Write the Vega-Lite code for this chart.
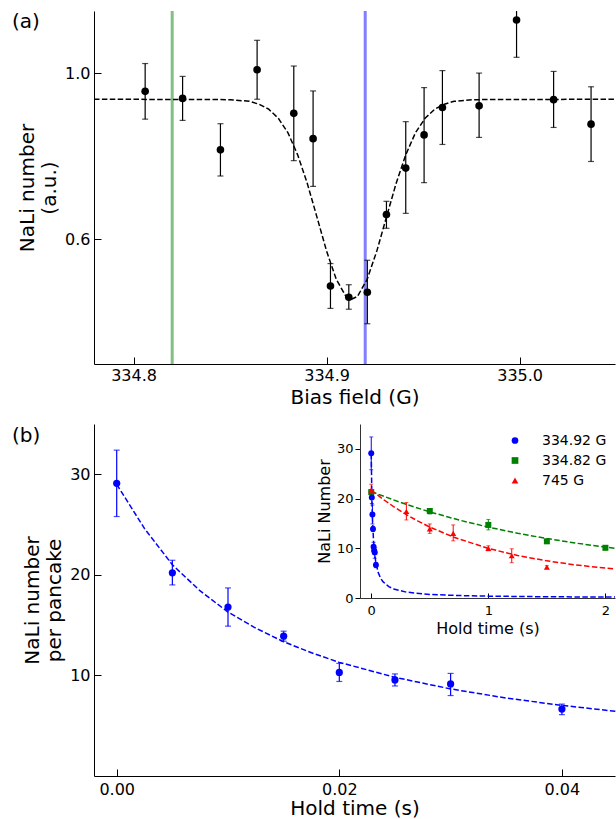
{
  "$schema": "https://vega.github.io/schema/vega-lite/v6.json",
  "padding": {"left": 12, "top": 9, "right": 0, "bottom": 0},
  "config": {
    "font": "DejaVu Sans",
    "view": {"stroke": null},
    "axis": {"grid": false, "domainColor": "black", "tickColor": "black", "labelColor": "black", "titleColor": "black", "titleFontWeight": "normal", "labelFlush": false, "labelOverlap": false, "domainWidth": 1, "tickWidth": 1},
    "legend": {"labelFontSize": 14, "labelColor": "black", "labelOffset": 20, "rowPadding": 6, "symbolSize": 45, "padding": 0, "symbolStrokeWidth": 0},
    "title": {"fontWeight": "normal", "color": "black"}
  },
  "datasets": {
    "lines": [{"b": 334.82, "s": "g"}, {"b": 334.92, "s": "b"}],
    "ptsA": [
      {"x": 334.806, "y": 0.957, "lo": 0.890, "hi": 1.024},
      {"x": 334.8254, "y": 0.940, "lo": 0.887, "hi": 0.993},
      {"x": 334.845, "y": 0.816, "lo": 0.753, "hi": 0.879},
      {"x": 334.864, "y": 1.009, "lo": 0.938, "hi": 1.080},
      {"x": 334.883, "y": 0.904, "lo": 0.790, "hi": 1.018},
      {"x": 334.893, "y": 0.843, "lo": 0.728, "hi": 0.958},
      {"x": 334.902, "y": 0.488, "lo": 0.434, "hi": 0.542},
      {"x": 334.9115, "y": 0.461, "lo": 0.432, "hi": 0.491},
      {"x": 334.9211, "y": 0.473, "lo": 0.397, "hi": 0.550},
      {"x": 334.931, "y": 0.660, "lo": 0.627, "hi": 0.692},
      {"x": 334.941, "y": 0.772, "lo": 0.663, "hi": 0.884},
      {"x": 334.9505, "y": 0.852, "lo": 0.737, "hi": 0.966},
      {"x": 334.960, "y": 0.918, "lo": 0.829, "hi": 1.007},
      {"x": 334.979, "y": 0.922, "lo": 0.846, "hi": 1.001},
      {"x": 334.9984, "y": 1.129, "lo": 1.039, "hi": 1.22},
      {"x": 335.0176, "y": 0.937, "lo": 0.870, "hi": 1.005},
      {"x": 335.037, "y": 0.878, "lo": 0.788, "hi": 0.968}
    ],
    "fitA": [
      {"x": 334.7795, "y": 0.938}, {"x": 334.85, "y": 0.937}, {"x": 334.86, "y": 0.933},
      {"x": 334.865, "y": 0.926}, {"x": 334.87, "y": 0.914}, {"x": 334.875, "y": 0.892},
      {"x": 334.88, "y": 0.857}, {"x": 334.885, "y": 0.804}, {"x": 334.89, "y": 0.735},
      {"x": 334.895, "y": 0.654}, {"x": 334.9, "y": 0.572}, {"x": 334.905, "y": 0.504},
      {"x": 334.91, "y": 0.463}, {"x": 334.913, "y": 0.456}, {"x": 334.916, "y": 0.463},
      {"x": 334.921, "y": 0.504}, {"x": 334.926, "y": 0.572}, {"x": 334.931, "y": 0.654},
      {"x": 334.936, "y": 0.735}, {"x": 334.941, "y": 0.804}, {"x": 334.946, "y": 0.857},
      {"x": 334.951, "y": 0.892}, {"x": 334.956, "y": 0.914}, {"x": 334.961, "y": 0.926},
      {"x": 334.966, "y": 0.933}, {"x": 334.976, "y": 0.937}, {"x": 335.0494, "y": 0.938}
    ],
    "mainPts": [
      {"t": 0, "n": 29.1, "lo": 25.8, "hi": 32.4},
      {"t": 0.005, "n": 20.2, "lo": 19.0, "hi": 21.45},
      {"t": 0.01, "n": 16.8, "lo": 14.9, "hi": 18.7},
      {"t": 0.015, "n": 13.9, "lo": 13.4, "hi": 14.4},
      {"t": 0.02, "n": 10.3, "lo": 9.4, "hi": 11.2},
      {"t": 0.025, "n": 9.55, "lo": 8.95, "hi": 10.15},
      {"t": 0.03, "n": 9.15, "lo": 8.0, "hi": 10.2},
      {"t": 0.04, "n": 6.65, "lo": 6.1, "hi": 7.15}
    ],
    "mainFit": [
      {"t": 0, "n": 29.0}, {"t": 0.0025, "n": 24.6}, {"t": 0.005, "n": 21.0},
      {"t": 0.0075, "n": 18.4}, {"t": 0.01, "n": 16.3}, {"t": 0.0125, "n": 14.7},
      {"t": 0.015, "n": 13.35}, {"t": 0.0175, "n": 12.25}, {"t": 0.02, "n": 11.3},
      {"t": 0.025, "n": 9.81}, {"t": 0.03, "n": 8.66}, {"t": 0.035, "n": 7.75},
      {"t": 0.04, "n": 7.02}, {"t": 0.0448, "n": 6.43}
    ],
    "insetPts": [
      {"ser": "334.82 G", "t": 0, "n": 21.3, "lo": 20.8, "hi": 21.8},
      {"ser": "334.82 G", "t": 0.5, "n": 17.5, "lo": 16.9, "hi": 18.0},
      {"ser": "334.82 G", "t": 1.0, "n": 14.7, "lo": 13.7, "hi": 15.8},
      {"ser": "334.82 G", "t": 1.5, "n": 11.4, "lo": 11.0, "hi": 11.8},
      {"ser": "334.82 G", "t": 2.0, "n": 10.1, "lo": 9.7, "hi": 10.5},
      {"ser": "745 G", "t": 0, "n": 21.7, "lo": 20.7, "hi": 22.9},
      {"ser": "745 G", "t": 0.3, "n": 17.4, "lo": 15.7, "hi": 19.2},
      {"ser": "745 G", "t": 0.5, "n": 13.9, "lo": 13.0, "hi": 14.9},
      {"ser": "745 G", "t": 0.7, "n": 13.0, "lo": 11.5, "hi": 14.7},
      {"ser": "745 G", "t": 1.0, "n": 10.0, "lo": 9.5, "hi": 10.5},
      {"ser": "745 G", "t": 1.2, "n": 8.5, "lo": 7.1, "hi": 9.9},
      {"ser": "745 G", "t": 1.5, "n": 6.2, "lo": 5.9, "hi": 6.5},
      {"ser": "334.92 G", "t": 0, "n": 29.1, "lo": 25.8, "hi": 32.4},
      {"ser": "334.92 G", "t": 0.005, "n": 20.2, "lo": 19.0, "hi": 21.45},
      {"ser": "334.92 G", "t": 0.01, "n": 16.8, "lo": 14.9, "hi": 18.7},
      {"ser": "334.92 G", "t": 0.015, "n": 13.9, "lo": 13.4, "hi": 14.4},
      {"ser": "334.92 G", "t": 0.02, "n": 10.3, "lo": 9.4, "hi": 11.2},
      {"ser": "334.92 G", "t": 0.025, "n": 9.55, "lo": 8.95, "hi": 10.15},
      {"ser": "334.92 G", "t": 0.03, "n": 9.15, "lo": 8.0, "hi": 10.2},
      {"ser": "334.92 G", "t": 0.04, "n": 6.65, "lo": 6.1, "hi": 7.15}
    ],
    "insetFit": [
      {"ser": "334.82 G", "t": 0, "n": 21.4}, {"ser": "334.82 G", "t": 0.25, "n": 19.22},
      {"ser": "334.82 G", "t": 0.5, "n": 17.32}, {"ser": "334.82 G", "t": 0.75, "n": 15.68},
      {"ser": "334.82 G", "t": 1.0, "n": 14.26}, {"ser": "334.82 G", "t": 1.25, "n": 13.03},
      {"ser": "334.82 G", "t": 1.5, "n": 11.96}, {"ser": "334.82 G", "t": 1.75, "n": 11.03},
      {"ser": "334.82 G", "t": 2.0, "n": 10.23}, {"ser": "334.82 G", "t": 2.082, "n": 9.99},
      {"ser": "745 G", "t": 0, "n": 21.7}, {"ser": "745 G", "t": 0.1, "n": 19.88},
      {"ser": "745 G", "t": 0.2, "n": 18.24}, {"ser": "745 G", "t": 0.3, "n": 16.77},
      {"ser": "745 G", "t": 0.4, "n": 15.46}, {"ser": "745 G", "t": 0.5, "n": 14.28},
      {"ser": "745 G", "t": 0.7, "n": 12.27}, {"ser": "745 G", "t": 1.0, "n": 9.97},
      {"ser": "745 G", "t": 1.25, "n": 8.55}, {"ser": "745 G", "t": 1.5, "n": 7.47},
      {"ser": "745 G", "t": 1.75, "n": 6.64}, {"ser": "745 G", "t": 2.0, "n": 6.01},
      {"ser": "745 G", "t": 2.082, "n": 5.85},
      {"ser": "334.92 G", "t": 0, "n": 29.0}, {"ser": "334.92 G", "t": 0.005, "n": 20.84},
      {"ser": "334.92 G", "t": 0.01, "n": 16.27}, {"ser": "334.92 G", "t": 0.02, "n": 11.3},
      {"ser": "334.92 G", "t": 0.03, "n": 8.66}, {"ser": "334.92 G", "t": 0.04, "n": 7.02},
      {"ser": "334.92 G", "t": 0.06, "n": 5.1}, {"ser": "334.92 G", "t": 0.08, "n": 3.98},
      {"ser": "334.92 G", "t": 0.1, "n": 3.28}, {"ser": "334.92 G", "t": 0.15, "n": 2.28},
      {"ser": "334.92 G", "t": 0.2, "n": 1.74}, {"ser": "334.92 G", "t": 0.3, "n": 1.18},
      {"ser": "334.92 G", "t": 0.5, "n": 0.72}, {"ser": "334.92 G", "t": 0.75, "n": 0.49},
      {"ser": "334.92 G", "t": 1.0, "n": 0.37}, {"ser": "334.92 G", "t": 1.5, "n": 0.25},
      {"ser": "334.92 G", "t": 2.082, "n": 0.18}
    ]
  },
  "vconcat": [
    {
      "title": {"text": "(a)", "anchor": "start", "frame": "group", "orient": "top", "offset": -22, "dx": -82, "baseline": "top", "fontSize": 20},
      "width": 521,
      "height": 353,
      "layer": [
        {
          "data": {"name": "lines"},
          "transform": [{"filter": "datum.s == 'g'"}],
          "mark": {"type": "rule", "strokeWidth": 3, "color": "#80c080"},
          "encoding": {
            "x": {"field": "b", "type": "quantitative", "scale": {"domain": [334.7795, 335.0494], "nice": false, "zero": false},
                  "axis": {"values": [334.8, 334.9, 335.0], "format": ".1f", "title": "Bias field (G)", "tickSize": -7, "labelPadding": 10, "titlePadding": 4, "labelFontSize": 16, "titleFontSize": 20}}
          }
        },
        {
          "data": {"name": "lines"},
          "transform": [{"filter": "datum.s == 'b'"}],
          "mark": {"type": "rule", "strokeWidth": 3, "color": "#8080ff"},
          "encoding": {
            "x": {"field": "b", "type": "quantitative", "scale": {"domain": [334.7795, 335.0494], "nice": false, "zero": false},
                  "axis": {"values": [334.8, 334.9, 335.0], "format": ".1f", "title": "Bias field (G)", "tickSize": -7, "labelPadding": 10, "titlePadding": 4, "labelFontSize": 16, "titleFontSize": 20}}
          }
        },
        {
          "data": {"name": "fitA"},
          "mark": {"type": "line", "color": "black", "strokeWidth": 1.5, "strokeDash": [5.5, 2.4]},
          "encoding": {
            "x": {"field": "x", "type": "quantitative", "scale": {"domain": [334.7795, 335.0494], "nice": false, "zero": false},
                  "axis": {"values": [334.8, 334.9, 335.0], "format": ".1f", "title": "Bias field (G)", "tickSize": -7, "labelPadding": 10, "titlePadding": 4, "labelFontSize": 16, "titleFontSize": 20}},
            "y": {"field": "y", "type": "quantitative", "scale": {"domain": [0.3, 1.1506], "nice": false, "zero": false},
                  "axis": {"values": [0.6, 1.0], "format": ".1f", "title": ["NaLi number", "(a.u.)"], "tickSize": -7, "labelPadding": 11, "titlePadding": 5, "titleLineHeight": 22, "labelFontSize": 16, "titleFontSize": 20}}
          }
        },
        {
          "data": {"name": "ptsA"},
          "mark": {"type": "rule", "color": "black", "strokeWidth": 1.2, "clip": true},
          "encoding": {
            "x": {"field": "x", "type": "quantitative", "scale": {"domain": [334.7795, 335.0494], "nice": false, "zero": false},
                  "axis": {"values": [334.8, 334.9, 335.0], "format": ".1f", "title": "Bias field (G)", "tickSize": -7, "labelPadding": 10, "titlePadding": 4, "labelFontSize": 16, "titleFontSize": 20}},
            "y": {"field": "lo", "type": "quantitative", "scale": {"domain": [0.3, 1.1506], "nice": false, "zero": false},
                  "axis": {"values": [0.6, 1.0], "format": ".1f", "title": ["NaLi number", "(a.u.)"], "tickSize": -7, "labelPadding": 11, "titlePadding": 5, "titleLineHeight": 22, "labelFontSize": 16, "titleFontSize": 20}},
            "y2": {"field": "hi"}
          }
        },
        {
          "data": {"name": "ptsA"},
          "mark": {"type": "tick", "orient": "horizontal", "color": "black", "size": 6, "thickness": 1.2, "clip": true},
          "encoding": {
            "x": {"field": "x", "type": "quantitative", "scale": {"domain": [334.7795, 335.0494], "nice": false, "zero": false},
                  "axis": {"values": [334.8, 334.9, 335.0], "format": ".1f", "title": "Bias field (G)", "tickSize": -7, "labelPadding": 10, "titlePadding": 4, "labelFontSize": 16, "titleFontSize": 20}},
            "y": {"field": "lo", "type": "quantitative", "scale": {"domain": [0.3, 1.1506], "nice": false, "zero": false},
                  "axis": {"values": [0.6, 1.0], "format": ".1f", "title": ["NaLi number", "(a.u.)"], "tickSize": -7, "labelPadding": 11, "titlePadding": 5, "titleLineHeight": 22, "labelFontSize": 16, "titleFontSize": 20}}
          }
        },
        {
          "data": {"name": "ptsA"},
          "mark": {"type": "tick", "orient": "horizontal", "color": "black", "size": 6, "thickness": 1.2, "clip": true},
          "encoding": {
            "x": {"field": "x", "type": "quantitative", "scale": {"domain": [334.7795, 335.0494], "nice": false, "zero": false},
                  "axis": {"values": [334.8, 334.9, 335.0], "format": ".1f", "title": "Bias field (G)", "tickSize": -7, "labelPadding": 10, "titlePadding": 4, "labelFontSize": 16, "titleFontSize": 20}},
            "y": {"field": "hi", "type": "quantitative", "scale": {"domain": [0.3, 1.1506], "nice": false, "zero": false},
                  "axis": {"values": [0.6, 1.0], "format": ".1f", "title": ["NaLi number", "(a.u.)"], "tickSize": -7, "labelPadding": 11, "titlePadding": 5, "titleLineHeight": 22, "labelFontSize": 16, "titleFontSize": 20}}
          }
        },
        {
          "data": {"name": "ptsA"},
          "mark": {"type": "point", "filled": true, "color": "black", "opacity": 1, "size": 58, "shape": "circle"},
          "encoding": {
            "x": {"field": "x", "type": "quantitative", "scale": {"domain": [334.7795, 335.0494], "nice": false, "zero": false},
                  "axis": {"values": [334.8, 334.9, 335.0], "format": ".1f", "title": "Bias field (G)", "tickSize": -7, "labelPadding": 10, "titlePadding": 4, "labelFontSize": 16, "titleFontSize": 20}},
            "y": {"field": "y", "type": "quantitative", "scale": {"domain": [0.3, 1.1506], "nice": false, "zero": false},
                  "axis": {"values": [0.6, 1.0], "format": ".1f", "title": ["NaLi number", "(a.u.)"], "tickSize": -7, "labelPadding": 11, "titlePadding": 5, "titleLineHeight": 22, "labelFontSize": 16, "titleFontSize": 20}}
          }
        },
        {
          "mark": {"type": "rule", "color": "black", "strokeWidth": 1},
          "encoding": {
            "y": {"datum": 1.1506, "type": "quantitative", "scale": {"domain": [0.3, 1.1506], "nice": false, "zero": false},
                  "axis": {"values": [0.6, 1.0], "format": ".1f", "title": ["NaLi number", "(a.u.)"], "tickSize": -7, "labelPadding": 11, "titlePadding": 5, "titleLineHeight": 22, "labelFontSize": 16, "titleFontSize": 20}}
          }
        }
      ]
    },
    {
      "title": {"text": "(b)", "anchor": "start", "frame": "group", "orient": "top", "offset": -22, "dx": -82, "baseline": "top", "fontSize": 20},
      "width": 521,
      "height": 352,
      "layer": [
        {
          "layer": [
            {
              "data": {"name": "mainPts"},
              "mark": {"type": "rule", "color": "#0000ff", "strokeWidth": 1.2},
              "encoding": {
                "x": {"field": "t", "type": "quantitative", "scale": {"domain": [-0.00204, 0.04477], "nice": false, "zero": false},
                      "axis": {"values": [0, 0.02, 0.04], "format": ".2f", "title": "Hold time (s)", "tickSize": -7, "labelPadding": 12, "titlePadding": 1, "labelFontSize": 16, "titleFontSize": 20}},
                "y": {"field": "lo", "type": "quantitative", "scale": {"domain": [0, 35], "nice": false, "zero": false},
                      "axis": {"values": [10, 20, 30], "title": ["NaLi number", "per pancake"], "tickSize": -7, "labelPadding": 11, "titlePadding": 5, "titleLineHeight": 22, "labelFontSize": 16, "titleFontSize": 20}},
                "y2": {"field": "hi"}
              }
            },
            {
              "data": {"name": "mainPts"},
              "mark": {"type": "tick", "orient": "horizontal", "color": "#0000ff", "size": 6, "thickness": 1.2},
              "encoding": {
                "x": {"field": "t", "type": "quantitative", "scale": {"domain": [-0.00204, 0.04477], "nice": false, "zero": false},
                      "axis": {"values": [0, 0.02, 0.04], "format": ".2f", "title": "Hold time (s)", "tickSize": -7, "labelPadding": 12, "titlePadding": 1, "labelFontSize": 16, "titleFontSize": 20}},
                "y": {"field": "lo", "type": "quantitative", "scale": {"domain": [0, 35], "nice": false, "zero": false},
                      "axis": {"values": [10, 20, 30], "title": ["NaLi number", "per pancake"], "tickSize": -7, "labelPadding": 11, "titlePadding": 5, "titleLineHeight": 22, "labelFontSize": 16, "titleFontSize": 20}}
              }
            },
            {
              "data": {"name": "mainPts"},
              "mark": {"type": "tick", "orient": "horizontal", "color": "#0000ff", "size": 6, "thickness": 1.2},
              "encoding": {
                "x": {"field": "t", "type": "quantitative", "scale": {"domain": [-0.00204, 0.04477], "nice": false, "zero": false},
                      "axis": {"values": [0, 0.02, 0.04], "format": ".2f", "title": "Hold time (s)", "tickSize": -7, "labelPadding": 12, "titlePadding": 1, "labelFontSize": 16, "titleFontSize": 20}},
                "y": {"field": "hi", "type": "quantitative", "scale": {"domain": [0, 35], "nice": false, "zero": false},
                      "axis": {"values": [10, 20, 30], "title": ["NaLi number", "per pancake"], "tickSize": -7, "labelPadding": 11, "titlePadding": 5, "titleLineHeight": 22, "labelFontSize": 16, "titleFontSize": 20}}
              }
            },
            {
              "data": {"name": "mainFit"},
              "mark": {"type": "line", "color": "#0000ff", "strokeWidth": 1.5, "strokeDash": [5.5, 2.4]},
              "encoding": {
                "x": {"field": "t", "type": "quantitative", "scale": {"domain": [-0.00204, 0.04477], "nice": false, "zero": false},
                      "axis": {"values": [0, 0.02, 0.04], "format": ".2f", "title": "Hold time (s)", "tickSize": -7, "labelPadding": 12, "titlePadding": 1, "labelFontSize": 16, "titleFontSize": 20}},
                "y": {"field": "n", "type": "quantitative", "scale": {"domain": [0, 35], "nice": false, "zero": false},
                      "axis": {"values": [10, 20, 30], "title": ["NaLi number", "per pancake"], "tickSize": -7, "labelPadding": 11, "titlePadding": 5, "titleLineHeight": 22, "labelFontSize": 16, "titleFontSize": 20}}
              }
            },
            {
              "data": {"name": "mainPts"},
              "mark": {"type": "point", "filled": true, "color": "#0000ff", "opacity": 1, "size": 52, "shape": "circle"},
              "encoding": {
                "x": {"field": "t", "type": "quantitative", "scale": {"domain": [-0.00204, 0.04477], "nice": false, "zero": false},
                      "axis": {"values": [0, 0.02, 0.04], "format": ".2f", "title": "Hold time (s)", "tickSize": -7, "labelPadding": 12, "titlePadding": 1, "labelFontSize": 16, "titleFontSize": 20}},
                "y": {"field": "n", "type": "quantitative", "scale": {"domain": [0, 35], "nice": false, "zero": false},
                      "axis": {"values": [10, 20, 30], "title": ["NaLi number", "per pancake"], "tickSize": -7, "labelPadding": 11, "titlePadding": 5, "titleLineHeight": 22, "labelFontSize": 16, "titleFontSize": 20}}
              }
            },
            {
              "mark": {"type": "rule", "color": "black", "strokeWidth": 1},
              "encoding": {
                "y": {"datum": 35, "type": "quantitative", "scale": {"domain": [0, 35], "nice": false, "zero": false},
                      "axis": {"values": [10, 20, 30], "title": ["NaLi number", "per pancake"], "tickSize": -7, "labelPadding": 11, "titlePadding": 5, "titleLineHeight": 22, "labelFontSize": 16, "titleFontSize": 20}}
              }
            }
          ]
        },
        {
          "layer": [
            {
              "data": {"name": "insetPts"},
              "mark": {"type": "rule", "strokeWidth": 1},
              "encoding": {
                "x": {"field": "t", "type": "quantitative", "scale": {"domain": [-0.096, 2.082], "range": [266, 521], "nice": false, "zero": false},
                      "axis": {"values": [0, 1, 2], "format": "d", "title": "Hold time (s)", "orient": "bottom", "offset": -178, "tickSize": -5, "labelPadding": 11, "titlePadding": 3, "labelFontSize": 13, "titleFontSize": 16, "domainColor": "#333"}},
                "y": {"field": "lo", "type": "quantitative", "scale": {"domain": [0, 35], "range": [174, 0], "nice": false, "zero": false},
                      "axis": {"values": [0, 10, 20, 30], "title": "NaLi Number", "orient": "left", "offset": -266, "tickSize": 5, "labelPadding": 2, "titlePadding": 4, "labelFontSize": 13, "titleFontSize": 16, "domainColor": "#333"}},
                "y2": {"field": "hi"},
                "stroke": {"field": "ser", "type": "nominal", "scale": {"domain": ["334.82 G", "334.92 G", "745 G"], "range": ["#008000", "#0000ff", "#ff0000"]}, "legend": null}
              }
            },
            {
              "data": {"name": "insetPts"},
              "mark": {"type": "tick", "orient": "horizontal", "size": 4, "thickness": 1},
              "encoding": {
                "x": {"field": "t", "type": "quantitative", "scale": {"domain": [-0.096, 2.082], "range": [266, 521], "nice": false, "zero": false},
                      "axis": {"values": [0, 1, 2], "format": "d", "title": "Hold time (s)", "orient": "bottom", "offset": -178, "tickSize": -5, "labelPadding": 11, "titlePadding": 3, "labelFontSize": 13, "titleFontSize": 16, "domainColor": "#333"}},
                "y": {"field": "lo", "type": "quantitative", "scale": {"domain": [0, 35], "range": [174, 0], "nice": false, "zero": false},
                      "axis": {"values": [0, 10, 20, 30], "title": "NaLi Number", "orient": "left", "offset": -266, "tickSize": 5, "labelPadding": 2, "titlePadding": 4, "labelFontSize": 13, "titleFontSize": 16, "domainColor": "#333"}},
                "fill": {"field": "ser", "type": "nominal", "scale": {"domain": ["745 G", "334.82 G", "334.92 G"], "range": ["#ff0000", "#008000", "#0000ff"]}, "legend": null}
              }
            },
            {
              "data": {"name": "insetPts"},
              "mark": {"type": "tick", "orient": "horizontal", "size": 4, "thickness": 1},
              "encoding": {
                "x": {"field": "t", "type": "quantitative", "scale": {"domain": [-0.096, 2.082], "range": [266, 521], "nice": false, "zero": false},
                      "axis": {"values": [0, 1, 2], "format": "d", "title": "Hold time (s)", "orient": "bottom", "offset": -178, "tickSize": -5, "labelPadding": 11, "titlePadding": 3, "labelFontSize": 13, "titleFontSize": 16, "domainColor": "#333"}},
                "y": {"field": "hi", "type": "quantitative", "scale": {"domain": [0, 35], "range": [174, 0], "nice": false, "zero": false},
                      "axis": {"values": [0, 10, 20, 30], "title": "NaLi Number", "orient": "left", "offset": -266, "tickSize": 5, "labelPadding": 2, "titlePadding": 4, "labelFontSize": 13, "titleFontSize": 16, "domainColor": "#333"}},
                "fill": {"field": "ser", "type": "nominal", "scale": {"domain": ["745 G", "334.82 G", "334.92 G"], "range": ["#ff0000", "#008000", "#0000ff"]}, "legend": null}
              }
            },
            {
              "data": {"name": "insetFit"},
              "mark": {"type": "line", "strokeWidth": 1.5, "strokeDash": [5.5, 2.4]},
              "encoding": {
                "x": {"field": "t", "type": "quantitative", "scale": {"domain": [-0.096, 2.082], "range": [266, 521], "nice": false, "zero": false},
                      "axis": {"values": [0, 1, 2], "format": "d", "title": "Hold time (s)", "orient": "bottom", "offset": -178, "tickSize": -5, "labelPadding": 11, "titlePadding": 3, "labelFontSize": 13, "titleFontSize": 16, "domainColor": "#333"}},
                "y": {"field": "n", "type": "quantitative", "scale": {"domain": [0, 35], "range": [174, 0], "nice": false, "zero": false},
                      "axis": {"values": [0, 10, 20, 30], "title": "NaLi Number", "orient": "left", "offset": -266, "tickSize": 5, "labelPadding": 2, "titlePadding": 4, "labelFontSize": 13, "titleFontSize": 16, "domainColor": "#333"}},
                "stroke": {"field": "ser", "type": "nominal", "scale": {"domain": ["334.82 G", "334.92 G", "745 G"], "range": ["#008000", "#0000ff", "#ff0000"]}, "legend": null}
              }
            },
            {
              "data": {"name": "insetPts"},
              "mark": {"type": "point", "filled": true, "opacity": 1, "size": 36},
              "encoding": {
                "x": {"field": "t", "type": "quantitative", "scale": {"domain": [-0.096, 2.082], "range": [266, 521], "nice": false, "zero": false},
                      "axis": {"values": [0, 1, 2], "format": "d", "title": "Hold time (s)", "orient": "bottom", "offset": -178, "tickSize": -5, "labelPadding": 11, "titlePadding": 3, "labelFontSize": 13, "titleFontSize": 16, "domainColor": "#333"}},
                "y": {"field": "n", "type": "quantitative", "scale": {"domain": [0, 35], "range": [174, 0], "nice": false, "zero": false},
                      "axis": {"values": [0, 10, 20, 30], "title": "NaLi Number", "orient": "left", "offset": -266, "tickSize": 5, "labelPadding": 2, "titlePadding": 4, "labelFontSize": 13, "titleFontSize": 16, "domainColor": "#333"}},
                "color": {"field": "ser", "type": "nominal", "scale": {"domain": ["334.92 G", "334.82 G", "745 G"], "range": ["#0000ff", "#008000", "#ff0000"]},
                          "legend": {"title": null, "orient": "none", "legendX": 414, "legendY": 422.5, "labelFontSize": 14, "labelOffset": 20}},
                "shape": {"field": "ser", "type": "nominal", "scale": {"domain": ["334.92 G", "334.82 G", "745 G"], "range": ["circle", "square", "triangle-up"]},
                          "legend": {"title": null, "orient": "none", "legendX": 414, "legendY": 422.5, "labelFontSize": 14, "labelOffset": 20}}
              }
            }
          ]
        }
      ],
      "resolve": {"scale": {"x": "independent", "y": "independent"}}
    }
  ],
  "spacing": 60,
  "bounds": "flush"
}
